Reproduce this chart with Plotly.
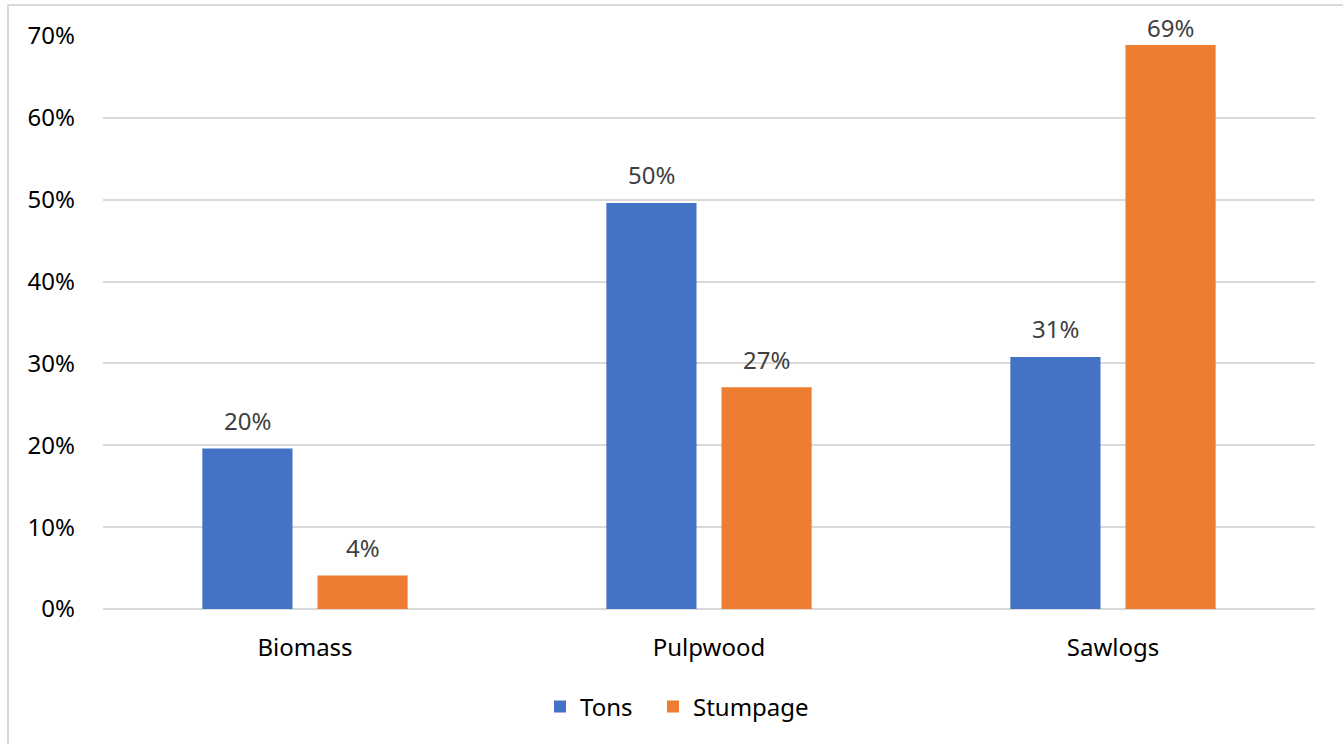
import plotly.graph_objects as go

categories = ["Biomass", "Pulpwood", "Sawlogs"]
tons = [0.196, 0.496, 0.308]
stumpage = [0.041, 0.271, 0.689]
y_ticks = [0, 0.1, 0.2, 0.3, 0.4, 0.5, 0.6, 0.7]

W, H = 1343, 744
L, R, T, B = 103, 28, 36, 135
pw, ph = W - L - R, H - T - B
Y_MAX = 0.7
BARGAP = 0.43
BARGROUPGAP = 0.217
LABEL_LIFT = 28  # px from bar top to label centre


def px_x(p):
    return (p - L) / pw


def px_y(p):
    return (H - B - p) / ph


font_family = "Noto Sans, Open Sans, sans-serif"

fig = go.Figure()
fig.add_trace(go.Bar(
    name="Tons", x=categories, y=tons, marker_color="#4472C4",
    marker_line_width=0, legend="legend",
))
fig.add_trace(go.Bar(
    name="Stumpage", x=categories, y=stumpage, marker_color="#ED7D31",
    marker_line_width=0, legend="legend2",
))

# value labels above each bar, kept inside the chart area
slot = (1 - BARGAP) / 2
for k, series in enumerate([tons, stumpage]):
    dx = (k - 0.5) * slot
    for i, v in enumerate(series):
        top_px = T + (Y_MAX - v) / Y_MAX * ph
        lift = min(LABEL_LIFT, top_px - 28)
        fig.add_annotation(
            x=i + dx, y=v, xref="x", yref="y",
            text=f"{v:.0%}", showarrow=False,
            yanchor="middle", yshift=lift,
            font=dict(size=24, color="#404040", family=font_family),
        )

legend_style = dict(
    orientation="h", xanchor="left",
    y=px_y(707), yanchor="middle",
    font=dict(size=24, color="#000000"),
    itemwidth=30, bgcolor="rgba(0,0,0,0)",
)

fig.update_layout(
    width=W, height=H,
    margin=dict(l=L, r=R, t=T, b=B, pad=0),
    paper_bgcolor="white", plot_bgcolor="white",
    barmode="group", bargap=BARGAP, bargroupgap=BARGROUPGAP,
    font=dict(family=font_family, size=24, color="#000000"),
    showlegend=True,
    legend=dict(x=px_x(540), **legend_style),
    legend2=dict(x=px_x(653), **legend_style),
)

fig.update_xaxes(
    showgrid=False, showline=False, zeroline=False, ticks="",
    tickfont=dict(size=24, color="#000000"),
    ticklabelstandoff=22,
)
fig.update_yaxes(
    range=[0, Y_MAX], tickvals=y_ticks, tickformat=".0%",
    showgrid=True, gridcolor="#D9D9D9", gridwidth=2,
    zeroline=True, zerolinecolor="#D9D9D9", zerolinewidth=2,
    showline=False, ticks="",
    tickfont=dict(size=24, color="#000000"),
    ticklabelstandoff=27,
)

# chart-area frame
fig.add_shape(
    type="rect", xref="paper", yref="paper",
    x0=px_x(8), x1=px_x(1360), y0=px_y(770), y1=px_y(5),
    line=dict(color="#D9D9D9", width=2), fillcolor="rgba(0,0,0,0)",
    layer="below",
)

fig.write_html("out.html")
